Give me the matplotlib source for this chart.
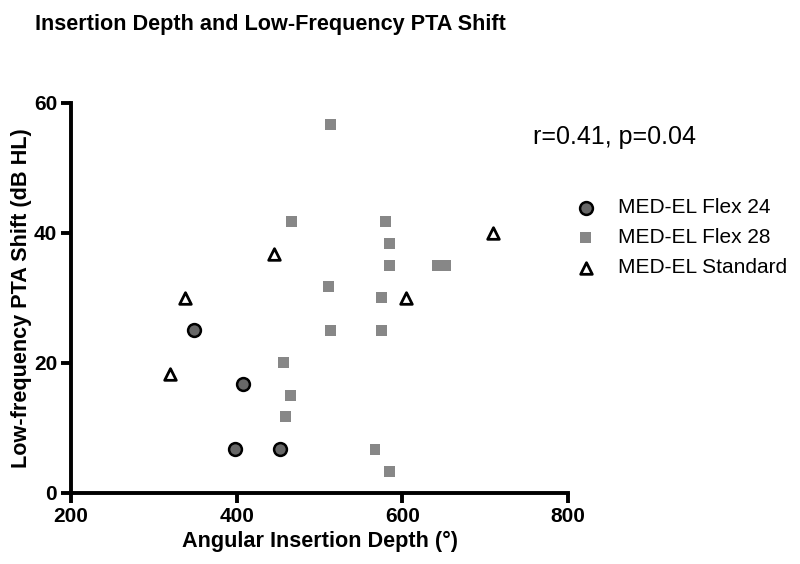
import matplotlib
matplotlib.use("Agg")
import matplotlib.pyplot as plt

plt.rcParams["font.family"] = ["Liberation Sans", "DejaVu Sans"]

# MED-EL Flex 24
flex24_x = [348, 408, 398, 452]
flex24_y = [25.0, 16.7, 6.7, 6.7]

# MED-EL Flex 28
flex28_x = [513, 466, 580, 584, 584, 642, 652, 511, 575, 513, 575, 456, 465, 459, 567, 584]
flex28_y = [56.7, 41.7, 41.7, 38.3, 35.0, 35.0, 35.0, 31.7, 30.0, 25.0, 25.0, 20.0, 15.0, 11.7, 6.7, 3.3]

# MED-EL Standard
standard_x = [338, 320, 445, 604, 710]
standard_y = [30.0, 18.3, 36.7, 30.0, 40.0]

x_ticks = [200, 400, 600, 800]
y_ticks = [0, 20, 40, 60]

fig = plt.figure(figsize=(8, 5.64), dpi=100)
ax = fig.add_axes([0.08875, 0.1264, 0.6213, 0.6915])

ax.scatter(flex24_x, flex24_y, s=85, marker="o", facecolor="#676767",
           edgecolor="black", linewidth=1.8, label="MED-EL Flex 24", zorder=3, clip_on=False)
ax.scatter(flex28_x, flex28_y, s=62, marker="s", facecolor="#878787",
           edgecolor="none", label="MED-EL Flex 28", zorder=3, clip_on=False)
ax.scatter(standard_x, standard_y, s=70, marker="^", facecolor="white",
           edgecolor="black", linewidth=2.0, label="MED-EL Standard", zorder=3, clip_on=False)

ax.set_xlim(200, 800)
ax.set_ylim(0, 60)
ax.set_xticks(x_ticks)
ax.set_yticks(y_ticks)
for s in ("top", "right"):
    ax.spines[s].set_visible(False)
for s in ("left", "bottom"):
    ax.spines[s].set_linewidth(2.8)
ax.tick_params(width=2.8, length=7, labelsize=15, direction="out", pad=3)
for lbl in ax.get_xticklabels() + ax.get_yticklabels():
    lbl.set_fontweight("bold")

ax.set_xlabel("Angular Insertion Depth (°)", fontsize=15.6, fontweight="bold", labelpad=4)
ax.set_ylabel("Low-frequency PTA Shift (dB HL)", fontsize=15.6, fontweight="bold", labelpad=1)

fig.text(0.044, 0.957, "Insertion Depth and Low-Frequency PTA Shift", fontsize=15.6,
         fontweight="bold", ha="left", va="center")
fig.text(0.666, 0.757, "r=0.41, p=0.04", fontsize=18, ha="left", va="center")

fig.legend(loc="upper left", bbox_to_anchor=(0.701, 0.6636), frameon=False, fontsize=15,
           handlelength=1.6, handletextpad=0.74, labelspacing=0.53, borderaxespad=0)

fig.savefig("out.png", dpi=100)
